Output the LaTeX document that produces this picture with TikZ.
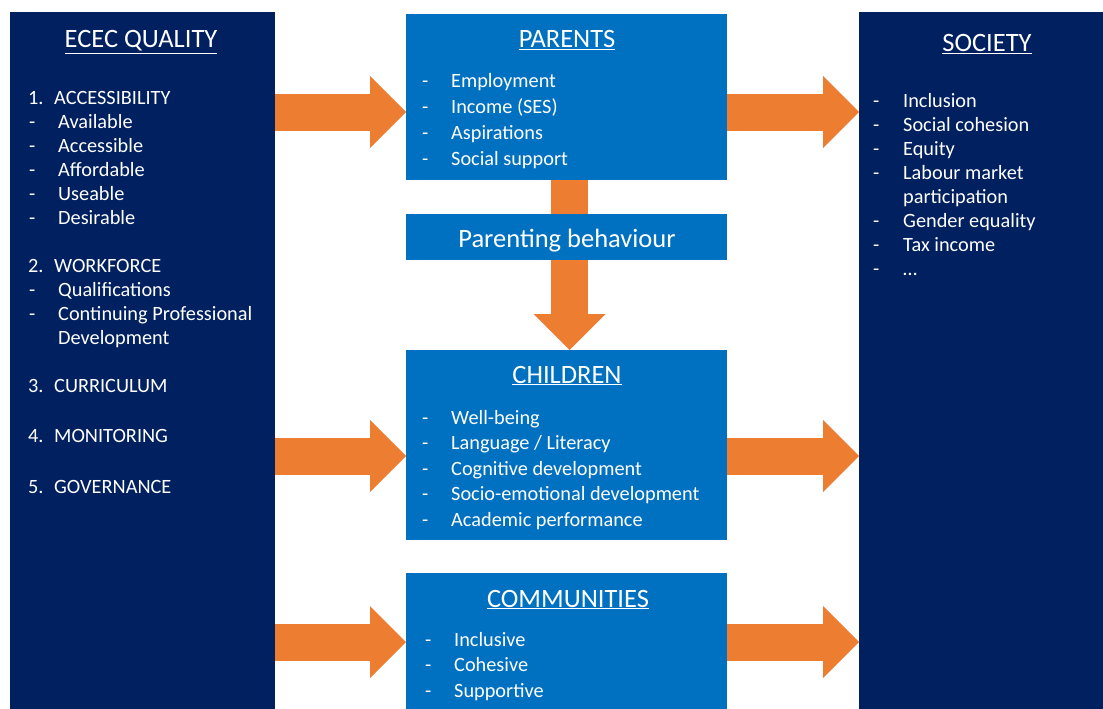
\documentclass[tikz,border=0pt]{standalone}
\usepackage{fontspec}
\setmainfont{Carlito}
\usetikzlibrary{arrows.meta}

\definecolor{navy}{HTML}{002060}
\definecolor{boxblue}{HTML}{0070C0}
\definecolor{flow}{HTML}{ED7D31}

\tikzset{
  panel/.style={fill=navy, anchor=north west, inner sep=0pt},
  bluebox/.style={fill=boxblue, anchor=north west, inner sep=0pt},
  heading/.style={text=white, anchor=base, inner sep=0pt,
    font=\fontsize{26.5}{30}\selectfont},
  item/.style={text=white, anchor=base west, inner sep=0pt,
    font=\fontsize{20.3}{24}\selectfont},
  flowarrow/.style={draw=flow, line width=37pt,
    -{Triangle[length=36pt, width=72pt, line width=0pt]}}
}

\begin{document}
\begin{tikzpicture}[x=1pt,y=-1pt]
  \useasboundingbox (0,0) rectangle (1103,709);
  % the boxes
  \node[panel, minimum width=265pt, minimum height=697pt] (ecec) at (10,12) {};
  \node[panel, minimum width=244pt, minimum height=697pt] (society) at (859,12) {};
  \node[bluebox, minimum width=321pt, minimum height=166pt] (parents) at (406,14) {};
  \node[bluebox, minimum width=321pt, minimum height=190pt] (children) at (406,350) {};
  \node[bluebox, minimum width=321pt, minimum height=136pt] (communities) at (406,573) {};
  % rows of the arrows
  \coordinate (row1) at (0,112);
  \coordinate (row2) at (0,456);
  \coordinate (row3) at (0,642);
  \draw[flowarrow] (ecec.east |- row1) -- (parents.west |- row1);
  \draw[flowarrow] (ecec.east |- row2) -- (children.west |- row2);
  \draw[flowarrow] (ecec.east |- row3) -- (communities.west |- row3);
  \draw[flowarrow] (parents.east |- row1) -- (society.west |- row1);
  \draw[flowarrow] (children.east |- row2) -- (society.west |- row2);
  \draw[flowarrow] (communities.east |- row3) -- (society.west |- row3);
  \draw[flowarrow] ([xshift=3pt]parents.south) -- ([xshift=3pt]children.north);
  \node[bluebox, minimum width=321pt, minimum height=46pt] (behaviour) at (406,214) {};
  \node[heading] (behaviourtxt) at (567,247) {Parenting behaviour};

  % ECEC quality
  \node[heading] (ecechead) at (141,48) {\underline{ECEC QUALITY}};
  \foreach \y/\n/\txt [count=\i] in {104/1./ACCESSIBILITY, 272/2./WORKFORCE,
      392/3./CURRICULUM, 442/4./MONITORING, 493/5./GOVERNANCE}
    \node[item] (ececnum\i) at (28,\y) {\makebox[26pt][l]{\n}\txt};
  \foreach \y/\txt [count=\i] in {128/Available, 152/Accessible, 176/Affordable,
      200/Useable, 224/Desirable, 296/Qualifications, 320/Continuing Professional}
    \node[item] (ececitem\i) at (29,\y) {\makebox[29pt][l]{-}\txt};
  \node[item] (ececmore) at (58,344) {Development};

  % parents
  \node[heading] (parentshead) at (567,48) {\underline{PARENTS}};
  \foreach \txt [count=\i from 0] in {Employment, Income (SES), Aspirations, Social support}
    \node[item] (parentsitem\i) at (422,88+25.7*\i) {\makebox[29pt][l]{-}\txt};

  % children
  \node[heading] (childrenhead) at (567,383) {\underline{CHILDREN}};
  \foreach \txt [count=\i from 0] in {Well-being, Language / Literacy, Cognitive development,
      Socio-emotional development, Academic performance}
    \node[item] (childrenitem\i) at (422,424+25.5*\i) {\makebox[29pt][l]{-}\txt};

  % communities
  \node[heading] (communitieshead) at (568,607) {\underline{COMMUNITIES}};
  \foreach \txt [count=\i from 0] in {Inclusive, Cohesive, Supportive}
    \node[item] (communitiesitem\i) at (425,646+25.5*\i) {\makebox[29pt][l]{-}\txt};

  % society
  \node[heading] (societyhead) at (987,52) {\underline{SOCIETY}};
  \foreach \y/\txt [count=\i] in {107/Inclusion, 131/Social cohesion, 155/Equity,
      179/Labour market, 227/Gender equality, 251/Tax income, 275/\ldots}
    \node[item] (societyitem\i) at (873,\y) {\makebox[30pt][l]{-}\txt};
  \node[item] (societymore) at (903,203) {participation};
\end{tikzpicture}
\end{document}
